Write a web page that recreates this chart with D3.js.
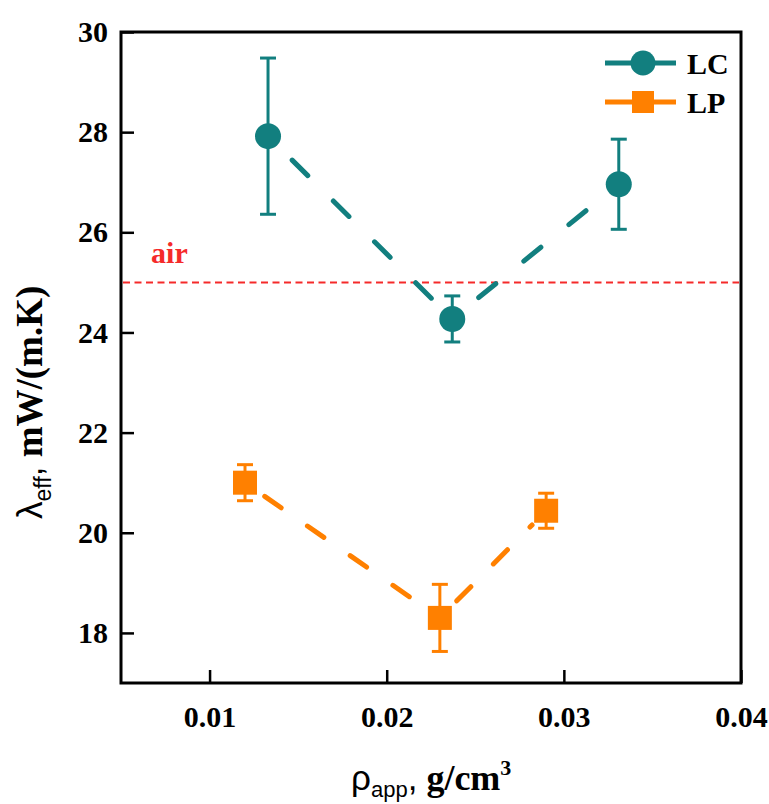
<!DOCTYPE html>
<html>
<head>
<meta charset="utf-8">
<script src="https://cdn.jsdelivr.net/npm/d3@7"></script>
<style>
  html, body { margin: 0; padding: 0; background: #fff; }
  svg { display: block; }
</style>
</head>
<body>
<svg id="chart" width="769" height="804"></svg>
<script>
// ---- data ----
const lcDensity = [0.0133, 0.0237, 0.0331];
const lcValue   = [27.92, 24.27, 26.96];
const lcError   = [1.56, 0.46, 0.90];

const lpDensity = [0.0120, 0.0230, 0.0290];
const lpValue   = [21.00, 18.30, 20.44];
const lpError   = [0.36, 0.67, 0.35];

const airValue = 25;
const xTicks = [0.01, 0.02, 0.03, 0.04];
const yTicks = [18, 20, 22, 24, 26, 28, 30];
const seriesNames = ["LC", "LP"];

// ---- layout ----
const teal = "#127f7f", orange = "#ff8000", red = "#f52a2a";
const serif = "'Liberation Serif', 'Times New Roman', serif";
const sans = "'Liberation Sans', Arial, sans-serif";
const L = 121, R = 741, T = 32, B = 683;

const svg = d3.select("#chart");
const x = d3.scaleLinear().domain([0.005, 0.04]).range([L, R]);
const y = d3.scaleLinear().domain([17, 30]).range([B, T]);

// axes
const xAxis = d3.axisBottom(x).tickValues(xTicks).tickFormat(d3.format(".2f"))
  .tickSizeInner(-13).tickSizeOuter(0).tickPadding(23);
const yAxis = d3.axisLeft(y).tickValues(yTicks).tickFormat(d3.format("d"))
  .tickSizeInner(-13).tickSizeOuter(0).tickPadding(13);

const gx = svg.append("g").attr("transform", `translate(0,${B})`).call(xAxis);
const gy = svg.append("g").attr("transform", `translate(${L},0)`).call(yAxis);
[gx, gy].forEach(g => {
  g.select(".domain").remove();
  g.selectAll(".tick line").attr("stroke", "#000").attr("stroke-width", 2.5);
  g.selectAll(".tick text").attr("fill", "#000")
    .style("font-family", serif).style("font-weight", "bold").style("font-size", "30px");
});

// frame
svg.append("rect").attr("x", L).attr("y", T).attr("width", R - L).attr("height", B - T)
  .attr("fill", "none").attr("stroke", "#000").attr("stroke-width", 3);

// air reference line
svg.append("line").attr("x1", x(0.005) + 2).attr("x2", x(0.04) - 2)
  .attr("y1", y(airValue)).attr("y2", y(airValue))
  .attr("stroke", red).attr("stroke-width", 2).attr("stroke-dasharray", "7,4.5");
svg.append("text").attr("x", x(0.0067)).attr("y", y(airValue) - 19)
  .text("air").attr("fill", red)
  .style("font-family", serif).style("font-weight", "bold").style("font-size", "30px");

// series drawing
function drawSeries(xs, vs, es, color, marker, dash, gapStart, gapEnd) {
  const pts = xs.map((d, i) => ({ px: x(d), py: y(vs[i]), e: es[i], v: vs[i] }));
  const g = svg.append("g");
  for (let i = 0; i < pts.length - 1; i++) {
    const a = pts[i], b = pts[i + 1];
    const dx = b.px - a.px, dy = b.py - a.py, len = Math.hypot(dx, dy);
    const ux = dx / len, uy = dy / len;
    g.append("line")
      .attr("x1", a.px + ux * gapStart).attr("y1", a.py + uy * gapStart)
      .attr("x2", b.px - ux * gapEnd).attr("y2", b.py - uy * gapEnd)
      .attr("stroke", color).attr("stroke-width", 5).attr("stroke-linecap", "round")
      .attr("stroke-dasharray", dash);
  }
  pts.forEach(p => {
    const yt = y(p.v + p.e), yb = y(p.v - p.e);
    g.append("line").attr("x1", p.px).attr("x2", p.px).attr("y1", yt).attr("y2", yb)
      .attr("stroke", color).attr("stroke-width", 3);
    [yt, yb].forEach(yy => g.append("line").attr("x1", p.px - 8).attr("x2", p.px + 8)
      .attr("y1", yy).attr("y2", yy).attr("stroke", color).attr("stroke-width", 3));
  });
  pts.forEach(p => {
    if (marker === "circle") {
      g.append("circle").attr("cx", p.px).attr("cy", p.py).attr("r", 13).attr("fill", color);
    } else {
      g.append("rect").attr("x", p.px - 12).attr("y", p.py - 12)
        .attr("width", 24).attr("height", 24).attr("fill", color);
    }
  });
}
drawSeries(lcDensity, lcValue, lcError, teal, "circle", "22,36", 34, 22);
drawSeries(lpDensity, lpValue, lpError, orange, "square", "20,32", 24, 20);

// legend
const legend = [
  { name: seriesNames[0], color: teal, marker: "circle", yy: 63 },
  { name: seriesNames[1], color: orange, marker: "square", yy: 102 }
];
legend.forEach(l => {
  const g = svg.append("g");
  g.append("line").attr("x1", 605).attr("x2", 676).attr("y1", l.yy).attr("y2", l.yy)
    .attr("stroke", l.color).attr("stroke-width", 5);
  if (l.marker === "circle") {
    g.append("circle").attr("cx", 643).attr("cy", l.yy).attr("r", 12.5).attr("fill", l.color);
  } else {
    g.append("rect").attr("x", 632).attr("y", l.yy - 11).attr("width", 22).attr("height", 22).attr("fill", l.color);
  }
  g.append("text").attr("x", 687).attr("y", l.yy + 11).text(l.name).attr("fill", "#000")
    .style("font-family", serif).style("font-weight", "bold").style("font-size", "30px");
});

// y title
const yt = svg.append("text").attr("transform", "translate(42,519) rotate(-90)")
  .attr("text-anchor", "start").attr("fill", "#000");
yt.append("tspan").text("λ").style("font-family", sans).style("font-size", "35px");
yt.append("tspan").text("eff").attr("dy", 9).style("font-family", sans).style("font-size", "23px");
yt.append("tspan").text(",").attr("dy", -9).style("font-family", sans).style("font-size", "35px");
yt.append("tspan").text(" mW/(m.K)").style("font-family", serif).style("font-weight", "bold").style("font-size", "37px");

// x title
const xt = svg.append("text").attr("x", 351).attr("y", 790).attr("text-anchor", "start").attr("fill", "#000");
xt.append("tspan").text("ρ").style("font-family", sans).style("font-size", "35px");
xt.append("tspan").text("app").attr("dy", 7).style("font-family", sans).style("font-size", "22px");
xt.append("tspan").text(",").attr("dy", -7).style("font-family", sans).style("font-size", "35px");
xt.append("tspan").text(" g/cm").style("font-family", serif).style("font-weight", "bold").style("font-size", "36px");
xt.append("tspan").text("3").attr("dy", -15).style("font-family", serif).style("font-weight", "bold").style("font-size", "22px");
</script>
</body>
</html>
